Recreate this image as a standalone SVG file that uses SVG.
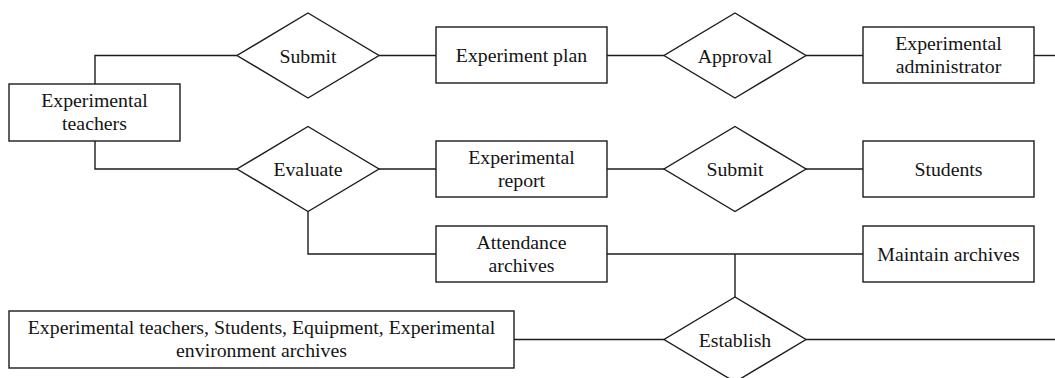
<svg xmlns="http://www.w3.org/2000/svg" width="1055" height="378" viewBox="0 0 1055 378">
  <style>
    .shape { fill: #ffffff; stroke: #1c1c1c; stroke-width: 1.4; }
    .link { fill: none; stroke: #1c1c1c; stroke-width: 1.4; }
    .label { font-size: 19.8px; fill: #141414; text-anchor: middle; }
  </style>
  <rect width="1055" height="378" fill="#ffffff"/>

  <!-- connectors -->
  <g id="connectors">
    <path class="link" d="M95,84 V55.5 H237"/>
    <path class="link" d="M95,141 V169 H237"/>
    <path class="link" d="M379,55.5 H436"/>
    <path class="link" d="M607,55.5 H664"/>
    <path class="link" d="M806,55.5 H863"/>
    <path class="link" d="M1034,55.5 H1055"/>
    <path class="link" d="M379,169 H436"/>
    <path class="link" d="M607,169 H664"/>
    <path class="link" d="M806,169 H863"/>
    <path class="link" d="M308,211.5 V254 H436"/>
    <path class="link" d="M607,254 H863"/>
    <path class="link" d="M735,254 V297"/>
    <path class="link" d="M514,339.5 H664"/>
    <path class="link" d="M806,339.5 H1055"/>
  </g>

  <!-- entities and relationships -->
  <g class="label" font-family="Liberation Serif, Times New Roman, DejaVu Serif, serif">
  <g id="node-teachers">
    <rect class="shape" x="9" y="84" width="171" height="57"/>
    <text x="94.5" y="107">Experimental</text>
    <text x="94.5" y="130">teachers</text>
  </g>

  <g id="node-submit-plan">
    <polygon class="shape" points="308,13 379,55.5 308,98 237,55.5"/>
    <text x="308" y="62.5">Submit</text>
  </g>

  <g id="node-experiment-plan">
    <rect class="shape" x="436" y="27" width="171" height="56"/>
    <text x="521.5" y="62">Experiment plan</text>
  </g>

  <g id="node-approval">
    <polygon class="shape" points="735,13 806,55.5 735,98 664,55.5"/>
    <text x="735" y="62.5">Approval</text>
  </g>

  <g id="node-administrator">
    <rect class="shape" x="863" y="27" width="171" height="56"/>
    <text x="948.5" y="50">Experimental</text>
    <text x="948.5" y="73">administrator</text>
  </g>

  <g id="node-evaluate">
    <polygon class="shape" points="308,126.5 379,169 308,211.5 237,169"/>
    <text x="308" y="176">Evaluate</text>
  </g>

  <g id="node-report">
    <rect class="shape" x="436" y="141" width="171" height="56"/>
    <text x="521.5" y="164">Experimental</text>
    <text x="521.5" y="187">report</text>
  </g>

  <g id="node-submit-report">
    <polygon class="shape" points="735,126.5 806,169 735,211.5 664,169"/>
    <text x="735" y="176">Submit</text>
  </g>

  <g id="node-students">
    <rect class="shape" x="863" y="141" width="171" height="56"/>
    <text x="948.5" y="176">Students</text>
  </g>

  <g id="node-attendance">
    <rect class="shape" x="436" y="226" width="171" height="56"/>
    <text x="521.5" y="249">Attendance</text>
    <text x="521.5" y="272">archives</text>
  </g>

  <g id="node-maintain">
    <rect class="shape" x="863" y="226" width="171" height="56"/>
    <text x="948.5" y="261">Maintain archives</text>
  </g>

  <g id="node-resources">
    <rect class="shape" x="9" y="311" width="505" height="57"/>
    <text x="261.5" y="334">Experimental teachers, Students, Equipment, Experimental</text>
    <text x="261.5" y="357">environment archives</text>
  </g>

  <g id="node-establish">
    <polygon class="shape" points="735,297 806,339.5 735,382 664,339.5"/>
    <text x="735" y="346.5">Establish</text>
  </g>
  </g>
</svg>
